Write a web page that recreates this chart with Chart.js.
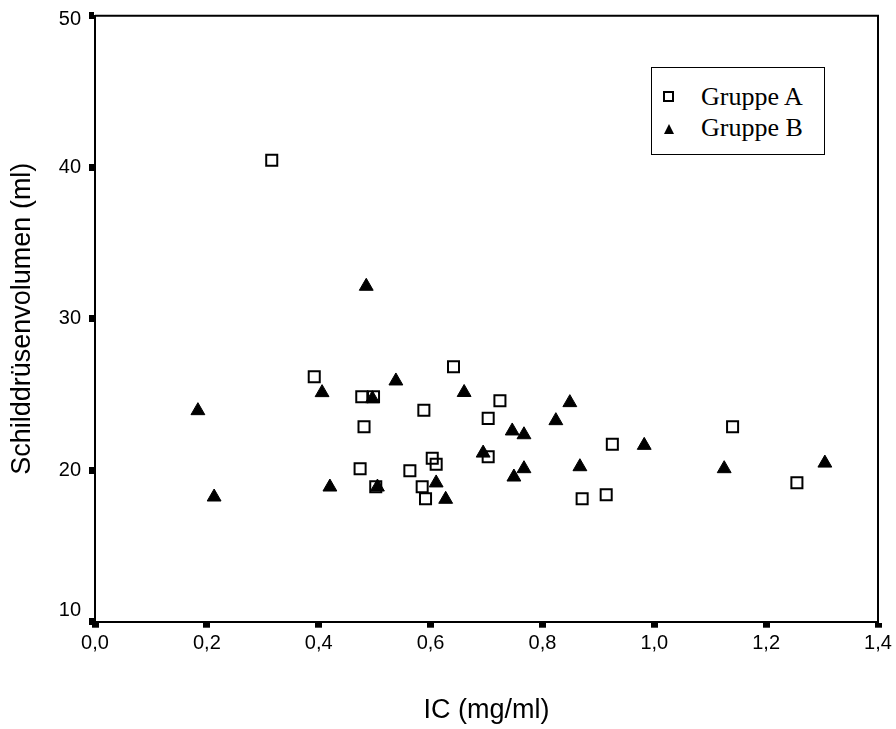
<!DOCTYPE html>
<html>
<head>
<meta charset="utf-8">
<script src="https://cdn.jsdelivr.net/npm/chart.js@4/dist/chart.umd.min.js"></script>
<style>
    body { margin: 0; background: #fff; }
    #wrap { position: relative; width: 896px; height: 729px; }
    #legend {
        position: absolute; left: 651px; top: 67px; width: 174px; height: 88px;
        box-sizing: border-box; border: 1.5px solid #000; background: #fff;
        font-family: "Liberation Serif", serif; font-size: 26px; color: #000;
    }
    #legend .txt { position: absolute; left: 49px; line-height: 26px; white-space: nowrap; }
    #legend .sq { position: absolute; left: 11px; top: 23px; width: 11px; height: 11px; box-sizing: border-box; border: 2px solid #000; }
    #legend .tri { position: absolute; left: 11.5px; top: 55.5px; width: 0; height: 0;
        border-left: 5.5px solid transparent; border-right: 5.5px solid transparent; border-bottom: 10px solid #000; }
</style>
</head>
<body>
<div id="wrap">
    <canvas id="scatterChart" width="896" height="729"></canvas>
    <div id="legend">
        <div class="sq"></div><div class="txt" style="top:16px">Gruppe A</div>
        <div class="tri"></div><div class="txt" style="top:47px">Gruppe B</div>
    </div>
</div>
<script>
// Gruppe A (Quadrate)
const groupAx = [0.316, 0.392, 0.477, 0.498, 0.641, 0.588, 0.481, 0.603, 0.610, 0.474, 0.563,
                 0.502, 0.585, 0.591, 0.724, 0.703, 0.703, 0.925, 1.140, 1.255, 0.871, 0.914];
const groupAy = [40.46, 26.17, 24.85, 24.85, 26.83, 23.95, 22.87, 20.79, 20.39, 20.10, 19.97,
                 18.91, 18.91, 18.12, 24.59, 23.42, 20.89, 21.71, 22.87, 19.17, 18.12, 18.38];

// Gruppe B (Dreiecke)
const groupBx = [0.184, 0.213, 0.406, 0.496, 0.538, 0.420, 0.505, 0.610, 0.627, 0.485, 0.660,
                 0.849, 0.824, 0.746, 0.767, 0.694, 0.767, 0.749, 0.867, 0.982, 1.125, 1.305];
const groupBy = [23.93, 18.23, 25.12, 24.72, 25.89, 18.89, 18.89, 19.16, 18.08, 32.14, 25.13,
                 24.46, 23.27, 22.59, 22.34, 21.13, 20.10, 19.55, 20.23, 21.64, 20.10, 20.47];

// Achsen
const xTickValues = [0, 0.2, 0.4, 0.6, 0.8, 1.0, 1.2, 1.4];
const xTickLabels = ["0,0", "0,2", "0,4", "0,6", "0,8", "1,0", "1,2", "1,4"];
const yTickValues = [10, 20, 30, 40, 50];
const yTickLabels = ["10", "20", "30", "40", "50"];

const toPoints = (xs, ys) => xs.map((x, i) => ({ x: x, y: ys[i] }));

const tickFont = { family: "'Liberation Sans', Arial, sans-serif", size: 20 };
const titleFont = { family: "'Liberation Sans', Arial, sans-serif", size: 27 };

// Rahmen oben und rechts + y-Beschriftung (Randwerte nach innen geschoben)
const framePlugin = {
    id: "frame",
    afterDraw(chart) {
        const { ctx, chartArea: a } = chart;
        const yScale = chart.scales.y;
        ctx.save();
        ctx.strokeStyle = "#000";
        ctx.lineWidth = 2;
        ctx.beginPath();
        ctx.moveTo(a.left, a.top);
        ctx.lineTo(a.right, a.top);
        ctx.lineTo(a.right, a.bottom);
        ctx.stroke();

        ctx.fillStyle = "#000";
        ctx.font = tickFont.size + "px " + tickFont.family;
        ctx.textAlign = "right";
        ctx.textBaseline = "middle";
        yTickValues.forEach((v, i) => {
            let py = yScale.getPixelForValue(v);
            py = Math.min(Math.max(py, a.top + 4), a.bottom - 11);
            ctx.fillText(yTickLabels[i], a.left - 14, py);
        });
        ctx.restore();
    },
};

const ctx = document.getElementById("scatterChart").getContext("2d");
const scatterChart = new Chart(ctx, {
    type: "scatter",
    data: {
        datasets: [
            {
                label: "Gruppe B",
                data: toPoints(groupBx, groupBy),
                pointStyle: "triangle",
                pointRadius: 8,
                backgroundColor: "#000",
                borderColor: "#000",
                borderWidth: 1,
                order: 0,
            },
            {
                label: "Gruppe A",
                data: toPoints(groupAx, groupAy),
                pointStyle: "rect",
                pointRadius: 7.8,
                backgroundColor: "rgba(0,0,0,0)",
                borderColor: "#000",
                borderWidth: 2,
                order: 1,
            },
        ],
    },
    options: {
        responsive: false,
        animation: false,
        layout: { padding: { top: 15.7, right: 18, left: 0, bottom: 0 } },
        plugins: {
            legend: { display: false },
            tooltip: { enabled: false },
        },
        scales: {
            x: {
                type: "linear",
                min: 0,
                max: 1.4,
                afterBuildTicks: (scale) => {
                    scale.ticks = xTickValues.map((v) => ({ value: v }));
                },
                afterFit: (scale) => { scale.height = 107.3; },
                ticks: {
                    color: "#000",
                    font: tickFont,
                    padding: 4,
                    maxRotation: 0,
                    callback: (v, i) => xTickLabels[i],
                },
                grid: { drawOnChartArea: false, tickLength: 6, tickWidth: 7, tickColor: "#000" },
                border: { display: true, color: "#000", width: 2 },
                title: {
                    display: true,
                    text: "IC (mg/ml)",
                    color: "#000",
                    font: titleFont,
                    padding: { top: 0, bottom: 2 },
                },
            },
            y: {
                type: "linear",
                min: 10,
                max: 50,
                afterBuildTicks: (scale) => {
                    scale.ticks = yTickValues.map((v) => ({ value: v }));
                },
                afterFit: (scale) => { scale.width = 95; },
                ticks: {
                    display: false,
                },
                grid: { drawOnChartArea: false, tickLength: 6, tickWidth: 7, tickColor: "#000" },
                border: { display: true, color: "#000", width: 2 },
                title: {
                    display: true,
                    text: "Schilddrüsenvolumen (ml)",
                    color: "#000",
                    font: titleFont,
                    padding: { top: 6, bottom: 0 },
                },
            },
        },
    },
    plugins: [framePlugin],
});
</script>
</body>
</html>
